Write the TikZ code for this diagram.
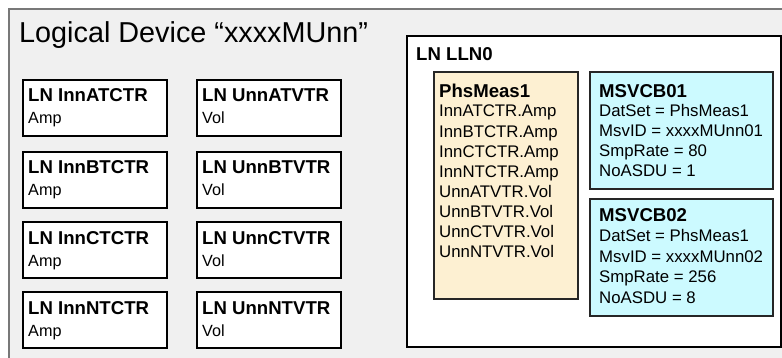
\documentclass[tikz,border=0pt]{standalone}
\usepackage{fontspec}
\setmainfont{Liberation Sans}
\definecolor{bggrey}{RGB}{240,240,240}
\definecolor{framegrey}{RGB}{120,120,120}
\definecolor{beige}{RGB}{253,240,210}
\definecolor{cyanfill}{RGB}{204,250,255}
\begin{document}
\begin{tikzpicture}[x=1pt,y=-1pt,
  lnbox/.style={draw=black,line width=2pt,fill=white,minimum width=144pt,minimum height=56pt,anchor=north west,inner sep=0pt},
  dsbox/.style={draw=black!85,line width=1.6pt,anchor=north west,inner sep=0pt},
  hdr/.style={font=\fontsize{18.6}{20}\selectfont\bfseries,anchor=base west,inner sep=0pt},
  sub/.style={font=\fontsize{16.2}{20}\selectfont,anchor=base west,inner sep=0pt},
  txt/.style={font=\fontsize{16.8}{20}\selectfont,anchor=base west,inner sep=0pt}]
\useasboundingbox (0,0) rectangle (782,358);
% outer logical device frame
\fill[bggrey] (9,9) rectangle (782,358);
\draw[framegrey,line width=1.3pt] (9,358) -- (9,9) -- (782,9);
\node[anchor=base west,inner sep=0pt,font=\fontsize{28.8}{32}\selectfont] (title) at (19,43) {Logical Device “xxxxMUnn”};
% left LN boxes
\foreach \i/\y/\ph in {1/79/A,2/151/B,3/221/C,4/291/N}{
  \node[lnbox] (ct\i) at (22,\y) {};
  \node[hdr] (cth\i) at ([shift={(6,23)}]ct\i.north west) {LN Inn\ph TCTR};
  \node[sub] (cts\i) at ([shift={(6,45)}]ct\i.north west) {Amp};
  \node[lnbox] (vt\i) at (196,\y) {};
  \node[hdr] (vth\i) at ([shift={(6,23)}]vt\i.north west) {LN Unn\ph TVTR};
  \node[sub] (vts\i) at ([shift={(6,45)}]vt\i.north west) {Vol};
}
% LLN0
\node[draw=black,line width=2pt,fill=white,anchor=north west,inner sep=0pt,minimum width=374pt,minimum height=311pt] (lln0) at (406,35) {};
\node[hdr] (lln0h) at (416,61) {LN LLN0};
% data set
\node[dsbox,fill=beige,minimum width=144pt,minimum height=227pt] (ds) at (433,71) {};
\node[hdr] (dsh) at (439,98) {PhsMeas1};
\foreach \t [count=\k from 0] in {InnATCTR.Amp,InnBTCTR.Amp,InnCTCTR.Amp,InnNTCTR.Amp,UnnATVTR.Vol,UnnBTVTR.Vol,UnnCTVTR.Vol,UnnNTVTR.Vol}{
  \node[txt] (dsl\k) at (439,117+20.1*\k) {\t};
}
% MSVCB01
\node[dsbox,fill=cyanfill,minimum width=183pt,minimum height=117pt] (cb1) at (589,71) {};
\node[hdr] (cb1h) at (599,98) {MSVCB01};
\node[txt] (cb1a) at (599,117) {DatSet = PhsMeas1};
\node[txt] (cb1b) at (599,137) {MsvID = xxxxMUnn01};
\node[txt] (cb1c) at (599,157) {SmpRate = 80};
\node[txt] (cb1d) at (599,177) {NoASDU = 1};
% MSVCB02
\node[dsbox,fill=cyanfill,minimum width=183pt,minimum height=117pt] (cb2) at (589,198) {};
\node[hdr] (cb2h) at (599,222) {MSVCB02};
\node[txt] (cb2a) at (599,242) {DatSet = PhsMeas1};
\node[txt] (cb2b) at (599,262) {MsvID = xxxxMUnn02};
\node[txt] (cb2c) at (599,283) {SmpRate = 256};
\node[txt] (cb2d) at (599,303) {NoASDU = 8};
\end{tikzpicture}
\end{document}
